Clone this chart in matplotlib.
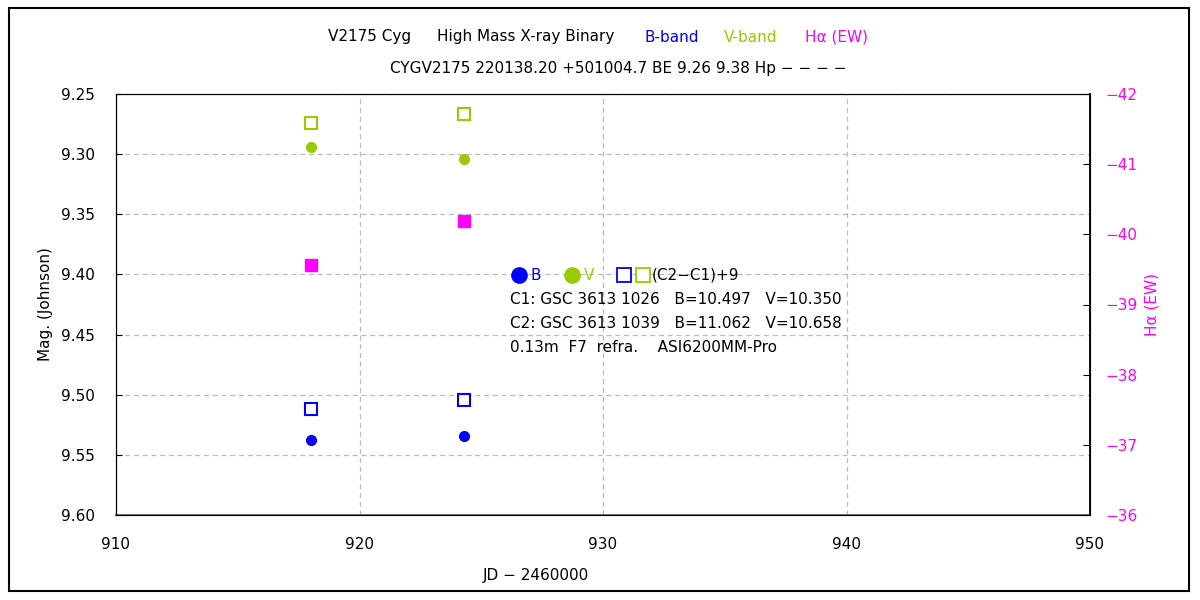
import matplotlib.pyplot as plt
from matplotlib.patches import Rectangle

# observations (JD - 2460000)
jd = [918.0, 924.3]
b_mag = [9.538, 9.534]
v_mag = [9.294, 9.304]
b_chk = [9.512, 9.504]   # (C2-C1)+9, B
v_chk = [9.274, 9.267]   # (C2-C1)+9, V
ha_ew = [-39.56, -40.19]

x_ticks = [910, 920, 930, 940, 950]
y_ticks = [9.25, 9.30, 9.35, 9.40, 9.45, 9.50, 9.55, 9.60]
ha_ticks = [-42, -41, -40, -39, -38, -37, -36]

blue = '#0000FF'
green = '#99CC00'
mag = '#FF00FF'

plt.rcParams['font.family'] = ['DejaVu Sans']
plt.rcParams['font.size'] = 11

fig = plt.figure(figsize=(12, 6), dpi=100)
ax = fig.add_axes([116/1200, 85/600, 974/1200, 421/600])

ax.plot(jd, b_mag, 'o', color=blue, ms=7, mec=blue, zorder=5)
ax.plot(jd, v_mag, 'o', color=green, ms=7, mec=green, zorder=5)
ax.plot(jd, b_chk, 's', mfc='white', mec=blue, ms=8, mew=1.5, zorder=5)
ax.plot(jd, v_chk, 's', mfc='white', mec=green, ms=8, mew=1.5, zorder=5)

ax.set_xlim(910, 950)
ax.set_ylim(9.60, 9.25)
ax.set_xticks(x_ticks)
ax.set_yticks(y_ticks)
ax.set_yticklabels(['%.2f' % v for v in y_ticks])
ax.grid(True, linestyle=(0, (4, 3)), color='#BBBBBB', linewidth=0.9)
ax.tick_params(axis='y', direction='in', length=4, pad=15)
ax.tick_params(axis='x', direction='in', length=0, pad=16)
ax.set_ylabel('Mag. (Johnson)', labelpad=6)
ax.set_xlabel('JD \u2212 2460000')
ax.xaxis.set_label_coords(0.431, -0.125)
ax.spines['bottom'].set_color('#777777')
ax.spines['bottom'].set_linewidth(1.5)
ax.spines['top'].set_color('#555555')

ax2 = ax.twinx()
ax2.plot(jd, ha_ew, 's', color=mag, ms=8, zorder=5)
ax2.set_ylim(-36, -42)
ax2.set_yticks(ha_ticks)
ax2.tick_params(axis='y', direction='in', length=5, pad=11, color='black', labelcolor=mag)
ax2.spines['right'].set_color('black')
ax2.spines['right'].set_linewidth(1.3)
ax2.set_ylabel('H\u03b1 (EW)', color=mag, labelpad=5)

# legend block inside the axes
t = ax.transAxes
ax.plot([0.4138], [0.570], 'o', color=blue, ms=11, transform=t, clip_on=False)
ax.text(0.4251, 0.570, 'B', color=blue, transform=t, va='center')
ax.plot([0.4682], [0.570], 'o', color=green, ms=11, transform=t, clip_on=False)
ax.text(0.4805, 0.570, 'V', color=green, transform=t, va='center')
ax.plot([0.5216], [0.570], 's', mfc='white', mec=blue, ms=10, mew=1.3, transform=t, clip_on=False)
ax.plot([0.5411], [0.570], 's', mfc='white', mec=green, ms=10, mew=1.3, transform=t, clip_on=False)
ax.text(0.5503, 0.570, '(C2\u2212C1)+9', transform=t, va='center')
ax.text(0.4045, 0.513, 'C1: GSC 3613 1026   B=10.497   V=10.350', transform=t, va='center')
ax.text(0.4045, 0.456, 'C2: GSC 3613 1039   B=11.062   V=10.658', transform=t, va='center')
ax.text(0.4045, 0.399, '0.13m  F7  refra.    ASI6200MM-Pro', transform=t, va='center')

# title pieces
fig.text(328/1200, 1-37/600, 'V2175 Cyg', va='center')
fig.text(437/1200, 1-37/600, 'High Mass X-ray Binary', va='center')
fig.text(645/1200, 1-37/600, 'B-band', color=blue, va='center')
fig.text(724/1200, 1-37/600, 'V-band', color=green, va='center')
fig.text(805/1200, 1-37/600, 'H\u03b1 (EW)', color=mag, va='center')
fig.text(618/1200, 1-68/600, 'CYGV2175 220138.20 +501004.7 BE 9.26 9.38 Hp \u2212 \u2212 \u2212 \u2212',
         ha='center', va='center')

fig.patches.append(Rectangle((9/1200, 9/600), 1180/1200, 583/600, transform=fig.transFigure,
                             fill=False, edgecolor='black', linewidth=1.5))

fig.savefig('out.png', dpi=100)
